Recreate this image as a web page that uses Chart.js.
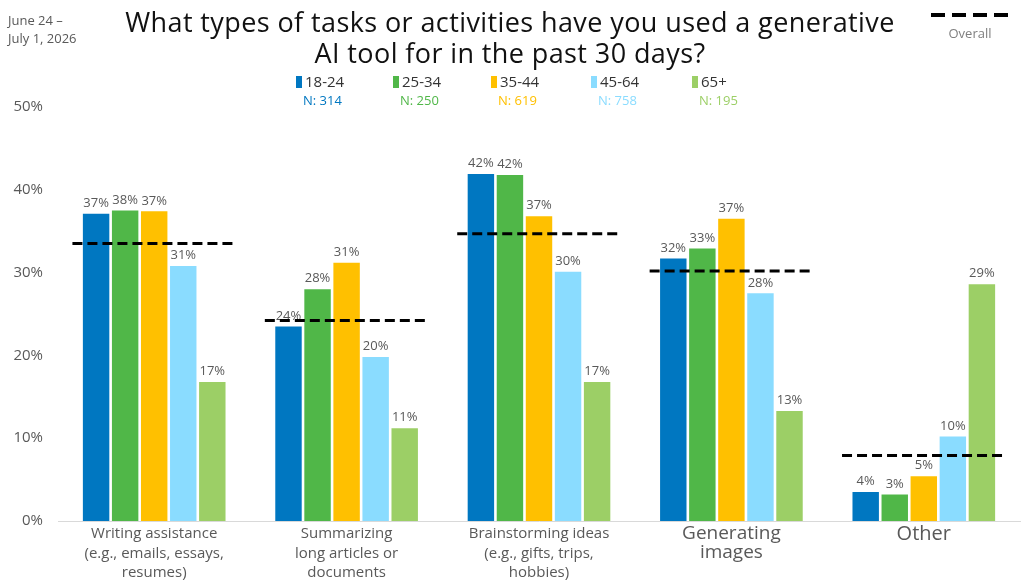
<!DOCTYPE html>
<html>
<head>
<meta charset="utf-8">
<script src="https://cdn.jsdelivr.net/npm/chart.js@4/dist/chart.umd.min.js"></script>
<style>
  body { margin: 0; background: #fff; font-family: 'Open Sans', sans-serif; }
  #wrap { position: relative; width: 1024px; height: 586px; overflow: hidden; }
  #chart { position: absolute; left: 0; top: 0; }
  .date { position: absolute; left: 8px; font-size: 13px; line-height: 18px; color: #595959; white-space: nowrap; text-align: left; }
  .title { position: absolute; left: 105px; width: 810px; top: 6px; text-align: center; font-size: 27px; letter-spacing: 0.4px; line-height: 31px; color: #111; font-weight: 500; white-space: nowrap; }
  .overall { position: absolute; left: 930px; top: 13px; width: 80px; text-align: center; font-size: 13px; color: #7f7f7f; }
  .overall .dash { height: 4px; margin: 0 auto 7px auto; width: 78px;
    background: repeating-linear-gradient(90deg, #000 0 14px, transparent 14px 21px); }
  .leg { position: absolute; top: 71px; font-size: 15px; color: #333; white-space: nowrap; }
  .leg .sw { display: inline-block; width: 6px; height: 12px; margin-right: 3px; vertical-align: -1px; }
  .leg .n { display: block; font-size: 13px; margin-left: 7px; margin-top: 0px; }
</style>
</head>
<body>
<div id="wrap">
  <canvas id="chart" width="1024" height="586"></canvas>
  <div class="date" style="top:11px">June 24 –</div>
  <div class="date" style="top:29px">July 1, 2026</div>
  <div class="title">What types of tasks or activities have you used a generative<br>AI tool for in the past 30 days?</div>
  <div class="overall"><div class="dash"></div>Overall</div>
  <div id="legend"></div>
</div>
<script>
// Categories (multi-line labels)
const categories = [
  ['Writing assistance', '(e.g., emails, essays,', 'resumes)'],
  ['Summarizing', 'long articles or', 'documents'],
  ['Brainstorming ideas', '(e.g., gifts, trips,', 'hobbies)'],
  ['Generating', 'images'],
  ['Other']
];
const ageGroups = ['18-24', '25-34', '35-44', '45-64', '65+'];
const sampleSizes = [314, 250, 619, 758, 195];

// Percent values per age group, same order as categories
const age18to24 = [37.1, 23.5, 41.9, 31.7, 3.5];
const age25to34 = [37.5, 28.0, 41.8, 32.9, 3.2];
const age35to44 = [37.4, 31.2, 36.8, 36.5, 5.4];
const age45to64 = [30.8, 19.8, 30.1, 27.5, 10.2];
const age65plus = [16.8, 11.2, 16.8, 13.3, 28.6];
const overall = [33.5, 24.2, 34.7, 30.2, 7.9];

const yTicks = [0, 10, 20, 30, 40, 50];

const colors = ['#0077c1', '#50b748', '#ffc000', '#8adcff', '#9ccf66'];
const seriesValues = [age18to24, age25to34, age35to44, age45to64, age65plus];

// HTML legend with sample sizes
const legendLeft = [296, 393, 491, 591, 692];
const legendEl = document.getElementById('legend');
ageGroups.forEach((g, i) => {
  const d = document.createElement('div');
  d.className = 'leg';
  d.style.left = legendLeft[i] + 'px';
  d.innerHTML = '<span class="sw" style="background:' + colors[i] + '"></span>' + g +
    '<span class="n" style="color:' + colors[i] + '">N: ' + sampleSizes[i] + '</span>';
  legendEl.appendChild(d);
});

// Percent labels above bars
const barLabels = {
  id: 'barLabels',
  afterDatasetsDraw(chart) {
    const ctx = chart.ctx;
    ctx.save();
    ctx.font = '13px "Open Sans"';
    ctx.fillStyle = '#595959';
    ctx.textAlign = 'center';
    ctx.textBaseline = 'bottom';
    chart.data.datasets.forEach((ds, di) => {
      chart.getDatasetMeta(di).data.forEach((bar, i) => {
        ctx.fillText(Math.round(ds.data[i]) + '%', bar.x, bar.y - 4);
      });
    });
    ctx.restore();
  }
};

// Dashed "Overall" marks across each category
const overallLines = {
  id: 'overallLines',
  afterDraw(chart) {
    const ctx = chart.ctx;
    const x = chart.scales.x;
    const y = chart.scales.y;
    const half = (x.width / categories.length) * 0.425;
    ctx.save();
    ctx.strokeStyle = '#000';
    ctx.lineWidth = 3;
    ctx.setLineDash([10, 5]);
    overall.forEach((v, i) => {
      const cx = x.getPixelForValue(i);
      const py = y.getPixelForValue(v);
      ctx.beginPath();
      ctx.moveTo(cx - half, py);
      ctx.lineTo(cx + half, py);
      ctx.stroke();
    });
    ctx.restore();
  }
};

const tickSizes = [15, 15, 15, 19, 20];
const tickLines = [1.3, 1.3, 1.3, 1.0, 1.0];

new Chart(document.getElementById('chart'), {
  type: 'bar',
  data: {
    labels: categories,
    datasets: ageGroups.map((g, i) => ({
      label: g,
      data: seriesValues[i],
      backgroundColor: colors[i],
      categoryPercentage: 0.755,
      barPercentage: 0.91
    }))
  },
  options: {
    responsive: false,
    animation: false,
    devicePixelRatio: 1,
    layout: { padding: { top: 107, right: 4, left: 0, bottom: 0 } },
    plugins: {
      legend: { display: false },
      tooltip: { enabled: false }
    },
    scales: {
      x: {
        grid: { display: false },
        border: { display: true, color: '#d9d9d9', width: 1 },
        ticks: {
          color: '#595959',
          padding: -5,
          maxRotation: 0,
          autoSkip: false,
          font: (ctx) => ({ family: 'Open Sans', size: tickSizes[ctx.index] || 15, lineHeight: tickLines[ctx.index] || 1.3 })
        },
        afterFit: (scale) => { scale.height = 65; }
      },
      y: {
        min: 0,
        max: 50,
        grid: { display: false },
        border: { display: false },
        afterBuildTicks: (scale) => { scale.ticks = yTicks.map(v => ({ value: v })); },
        ticks: {
          color: '#595959',
          padding: 7,
          font: { family: 'Open Sans', size: 15 },
          callback: (v) => v + '%'
        },
        afterFit: (scale) => { scale.width = 58; }
      }
    }
  },
  plugins: [barLabels, overallLines]
});
</script>
</body>
</html>
